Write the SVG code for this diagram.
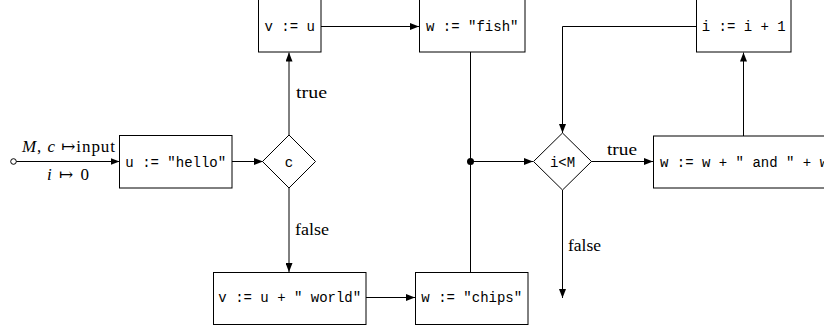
<svg xmlns="http://www.w3.org/2000/svg" width="824" height="331" viewBox="0 0 824 331">
<style>
.box{fill:#fff;stroke:#000;stroke-width:1}
.code{font-family:"Liberation Mono","DejaVu Sans Mono",monospace;font-size:14px;fill:#000}
.lbl{font-family:"Liberation Serif","DejaVu Serif",serif;font-size:17px;fill:#000}
.math{font-family:"Liberation Serif","DejaVu Serif",serif;font-size:17px;font-style:italic}
.edge{fill:none;stroke:#000;stroke-width:1}
</style>
<defs>
<marker id="arr" markerWidth="9" markerHeight="7" refX="9" refY="3.5" orient="auto" markerUnits="userSpaceOnUse">
<path d="M0,0 L9,3.5 L0,7 Z" fill="#000"/>
</marker>
</defs>
<g id="connectors">
<path class="edge" d="M16,161.5 H119.5" marker-end="url(#arr)"/>
<path class="edge" d="M232,161.5 H263" marker-end="url(#arr)"/>
<path class="edge" d="M289,135 V52.5" marker-end="url(#arr)"/>
<path class="edge" d="M289,188 V272" marker-end="url(#arr)"/>
<path class="edge" d="M321,26.5 H419" marker-end="url(#arr)"/>
<path class="edge" d="M366,297.5 H415" marker-end="url(#arr)"/>
<path class="edge" d="M470.5,52 V272"/>
<path class="edge" d="M470.5,161.5 H533" marker-end="url(#arr)"/>
<path class="edge" d="M591,161.5 H653" marker-end="url(#arr)"/>
<path class="edge" d="M743.5,136 V52.5" marker-end="url(#arr)"/>
<path class="edge" d="M696,26.5 H562.5 V133" marker-end="url(#arr)"/>
<path class="edge" d="M562.5,190 V298" marker-end="url(#arr)"/>
<circle cx="13.5" cy="161.5" r="2.8" fill="#fff" stroke="#000" stroke-width="1"/>
<circle cx="470.5" cy="161.5" r="3.5" fill="#000"/>
<text class="lbl" x="22" y="152" textLength="93" lengthAdjust="spacing"><tspan class="math">M</tspan>, <tspan class="math">c</tspan> ↦input</text>
<text class="lbl" x="47" y="180" textLength="42" lengthAdjust="spacing"><tspan class="math">i</tspan> ↦ 0</text>
<text class="lbl" x="296" y="98" textLength="31" lengthAdjust="spacingAndGlyphs">true</text>
<text class="lbl" x="295" y="235" textLength="34" lengthAdjust="spacingAndGlyphs">false</text>
<text class="lbl" x="607" y="155" textLength="30" lengthAdjust="spacingAndGlyphs">true</text>
<text class="lbl" x="568" y="251" textLength="33" lengthAdjust="spacingAndGlyphs">false</text>
</g>
<g id="hello">
<rect class="box" x="119.5" y="135.5" width="112.5" height="52.5"/>
<text class="code" x="175.75" y="166.5" text-anchor="middle">u := "hello"</text>
</g>
<g id="c">
<polygon class="box" points="289,135 315.5,161.5 289,188 262.5,161.5"/>
<text class="code" x="289" y="166.5" text-anchor="middle">c</text>
</g>
<g id="vu">
<rect class="box" x="258.5" y="-0.5" width="62.5" height="52.5"/>
<text class="code" x="289.75" y="31" text-anchor="middle">v := u</text>
</g>
<g id="fish">
<rect class="box" x="419.5" y="-0.5" width="105.5" height="52.5"/>
<text class="code" x="472.25" y="31" text-anchor="middle">w := "fish"</text>
</g>
<g id="world">
<rect class="box" x="213.5" y="272.5" width="152.5" height="52"/>
<text class="code" x="289.75" y="302" text-anchor="middle">v := u + " world"</text>
</g>
<g id="chips">
<rect class="box" x="415.5" y="272.5" width="112.5" height="52"/>
<text class="code" x="471.75" y="302" text-anchor="middle">w := "chips"</text>
</g>
<g id="iltM">
<polygon class="box" points="562.5,133 591.5,161.5 562.5,190 533.5,161.5"/>
<text class="code" x="562.5" y="166.5" text-anchor="middle">i&lt;M</text>
</g>
<g id="and">
<rect class="box" x="653.5" y="136" width="190" height="52"/>
<text class="code" x="660" y="166.5">w := w + " and " + w</text>
</g>
<g id="inc">
<rect class="box" x="696.5" y="-0.5" width="94.5" height="52.5"/>
<text class="code" x="743.75" y="31" text-anchor="middle">i := i + 1</text>
</g>
</svg>
